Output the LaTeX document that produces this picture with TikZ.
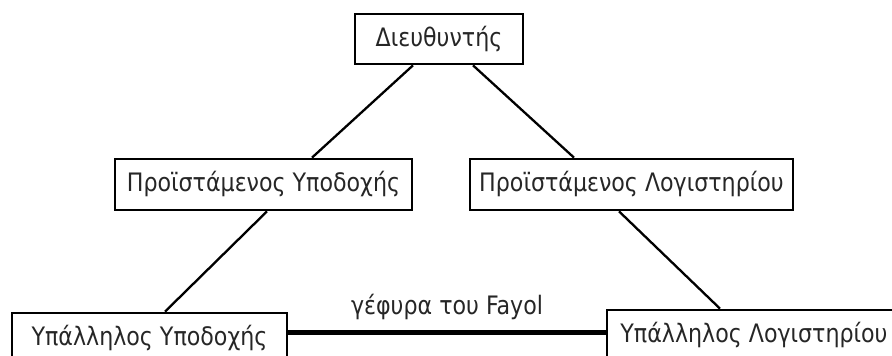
\documentclass[tikz,border=0pt]{standalone}
\usepackage{fontspec}
\setmainfont[FakeStretch=0.97]{DejaVu Sans Condensed}

\begin{document}
\begin{tikzpicture}[x=0.5pt, y=-0.5pt,
    post/.style={draw, line width=1.35pt, inner sep=0pt, minimum height=25.5pt,
                 font=\fontsize{12.7}{15}\selectfont, text=black!85},
    link/.style={line width=1.15pt},
    bridge/.style={line width=2.5pt}]
    \useasboundingbox (0,0) rectangle (892,356);
    \node[post, minimum width=84pt, minimum height=25pt] (dir) at (439,39) {Διευθυντής};
    \node[post, minimum width=148.5pt] (psup) at (263.5,184.5) {Προϊστάμενος Υποδοχής};
    \node[post, minimum width=161.5pt] (plog) at (631.5,184.5) {Προϊστάμενος Λογιστηρίου};
    \node[post, minimum width=137.5pt] (ypod) at (149.5,338.5) {Υπάλληλος Υποδοχής};
    \node[post, minimum width=147pt] (ylog) at (754,335.5) {Υπάλληλος Λογιστηρίου};
    \draw[link] ([xshift=-13pt]dir.south) -- ([xshift=24.25pt]psup.north);
    \draw[link] ([xshift=17pt]dir.south) -- ([xshift=-28.75pt]plog.north);
    \draw[link] ([xshift=1.75pt]psup.south) -- ([xshift=7.75pt]ypod.north);
    \draw[link] ([xshift=-6.25pt]plog.south) -- ([xshift=-17pt]ylog.north);
    \draw[bridge] ([yshift=2.75pt]ypod.east) -- node[above=2pt, font=\fontsize{12.7}{15}\selectfont, text=black!85] {γέφυρα του Fayol} ([yshift=1.25pt]ylog.west);
\end{tikzpicture}
\end{document}
